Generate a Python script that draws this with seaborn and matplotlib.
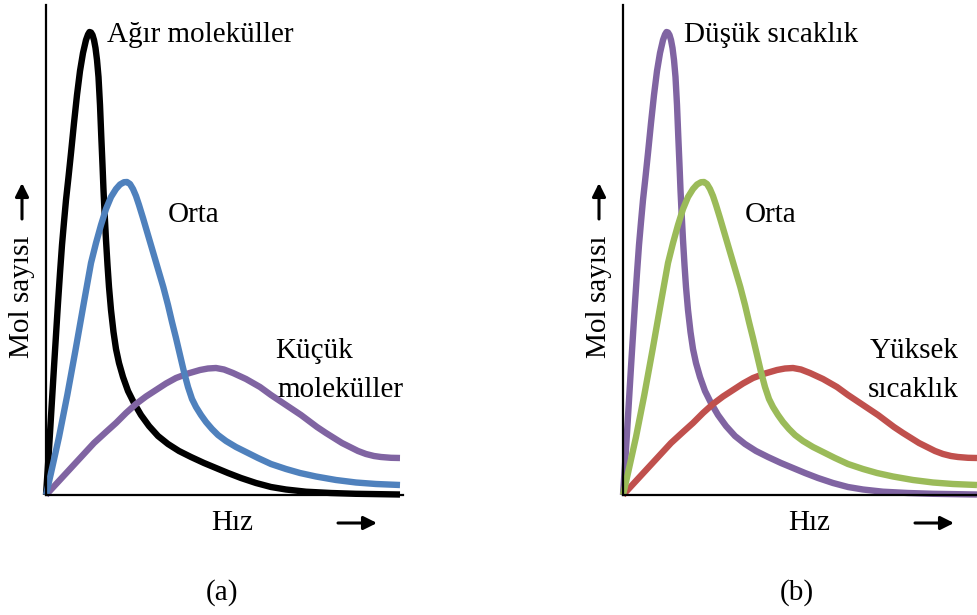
import matplotlib
matplotlib.use("Agg")
import matplotlib.pyplot as plt
import seaborn as sns

W, H = 977, 615

# Curves: speed (x) and number of molecules (y),
# arbitrary units (one unit = one pixel of the original axes).
heavy_x = [0, 2, 4, 6, 8, 10, 12, 14, 16, 18, 20, 22.5, 25, 28, 31, 34, 37, 40, 42,
           43.5, 45, 46.5, 48, 49.5, 51, 52.5, 54, 55.3, 56.5, 57.5, 58.7, 60, 61.5,
           63, 65, 67.5, 70, 73, 77, 82, 88, 95, 103, 112, 122, 133, 145, 158, 170,
           182, 195, 210, 225, 240, 260, 285, 310, 354]
heavy_y = [0, 30, 62, 95, 128, 160, 192, 222, 250, 273, 295, 318, 342, 372, 400, 424,
           442, 455, 460.5, 463, 462.5, 460, 455, 447, 435, 418, 390, 358, 330, 305,
           280, 255, 230, 208, 185, 163, 146, 132, 118, 104, 92, 80, 69, 59, 51, 44,
           38, 32, 27, 22, 17, 12, 8, 5.5, 3.3, 2, 1.2, 0.5]

mid_x = [0, 5, 13, 21.3, 29.7, 38, 45, 50, 55, 60, 65, 70, 74, 78, 81, 84, 87, 90, 93,
         97, 102, 107.3, 112, 117.3, 122, 126, 130, 134, 138, 142, 146, 150, 155, 160,
         166, 172, 180, 190, 200, 212, 225, 240, 254, 270, 290, 310, 330, 354]
mid_y = [0, 22, 58, 100, 146, 193, 232, 252, 270, 286, 298, 306, 310.5, 312.8, 313,
         311, 306, 299, 290, 277, 260, 242, 226, 208, 190, 173, 157, 140, 123, 108, 96,
         88, 80, 73, 66, 60, 54, 48, 43, 37, 31, 26, 22, 18.5, 15, 12.5, 11, 10]

light_x = [0, 12, 24, 36, 48, 60, 70, 80, 90, 100, 110, 120, 130, 142, 154, 162, 170,
           178, 187, 200, 214, 225, 237, 246, 255, 263, 271, 280, 288, 296, 304, 312,
           320, 328, 335, 345, 354]
light_y = [0, 13, 26, 39, 52, 63, 72, 82, 91, 98.5, 105, 111.5, 117, 121.5, 125, 126.5,
           127, 125.5, 122, 116, 108, 100, 92, 86, 80, 74, 68, 62, 57, 52, 48, 44, 41,
           39, 38, 37.2, 37]

# panel (a): molecules of different mass, panel (b): different temperatures
labels_a = ["Ağır moleküller", "Orta", "Küçük\nmoleküller"]
labels_b = ["Düşük sıcaklık", "Orta", "Yüksek\nsıcaklık"]
colors_a = ["#000000", "#4F81BD", "#8064A2"]
colors_b = ["#8064A2", "#9BBB59", "#C0504D"]

sns.set_style("white")
plt.rcParams["font.family"] = ["Liberation Serif", "DejaVu Serif"]
plt.rcParams["text.color"] = "black"


def frac(x, y):
    """Page pixel (from top-left) to figure fraction."""
    return x / W, 1 - y / H


def draw_panel(ax, colors, labels, x0, xmax):
    curves = [(heavy_x, heavy_y), (mid_x, mid_y), (light_x, light_y)]
    # draw order: narrow peak, wide curve, then the middle one on top
    for i in [0, 2, 1]:
        xs, ys = curves[i]
        sns.lineplot(x=xs, y=ys, ax=ax, color=colors[i], linewidth=4.6,
                     estimator=None, sort=False)
    for line in ax.lines:
        line.set_clip_on(False)
        line.set_solid_capstyle("butt")
        line.set_solid_joinstyle("round")
    ax.set_xlim(0, xmax)
    ax.set_ylim(0, 490)
    ax.set(xticks=[], yticks=[], xlabel="", ylabel="")
    sns.despine(ax=ax)
    for side in ["left", "bottom"]:
        ax.spines[side].set_linewidth(1.6)
        ax.spines[side].set_color("black")

    fs = 21
    fig.text(*frac(x0 + 61, 42), labels[0], fontsize=fs, va="baseline")
    fig.text(*frac(x0 + 122, 222), labels[1], fontsize=fs, va="baseline")
    top, bottom = labels[2].split("\n")
    fig.text(*frac(x0 + 229 + (0 if x0 < 100 else 18), 358), top, fontsize=fs, va="baseline")
    fig.text(*frac(x0 + 231 + (0 if x0 < 100 else 14), 397), bottom, fontsize=fs, va="baseline")

    # axis names with arrows
    fig.text(*frac(x0 + 186, 523), "Hız", fontsize=fs, ha="center", va="center")
    fig.text(*frac(x0 - 24, 297), "Mol sayısı", fontsize=fs, rotation=90,
             ha="center", va="center")
    arrow = dict(arrowstyle="-|>", color="black", lw=2.2, mutation_scale=20,
                 shrinkA=0, shrinkB=0)
    ax.annotate("", xy=frac(x0 + 331, 523), xytext=frac(x0 + 292, 523),
                xycoords="figure fraction", textcoords="figure fraction",
                arrowprops=arrow, annotation_clip=False)
    ax.annotate("", xy=frac(x0 - 24, 183), xytext=frac(x0 - 24, 219),
                xycoords="figure fraction", textcoords="figure fraction",
                arrowprops=arrow, annotation_clip=False)


fig = plt.figure(figsize=(W / 100, H / 100), dpi=100)
ax_a = fig.add_axes([46 / W, 120 / H, 357 / W, 490 / H])
ax_b = fig.add_axes([623 / W, 120 / H, 354 / W, 490 / H])

draw_panel(ax_a, colors_a, labels_a, 46, 357)
draw_panel(ax_b, colors_b, labels_b, 623, 354)

fig.text(*frac(222, 593), "(a)", fontsize=21, ha="center", va="center")
fig.text(*frac(797, 593), "(b)", fontsize=21, ha="center", va="center")

fig.savefig("out.png", dpi=100)
plt.close(fig)
